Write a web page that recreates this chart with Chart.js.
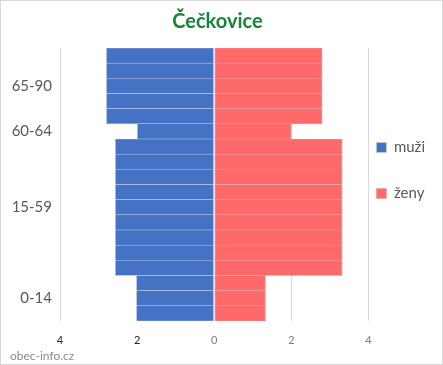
<!DOCTYPE html>
<html lang="cs">
<head>
    <meta charset="UTF-8">
    <title>Čečkovice</title>
    <script src="https://cdn.jsdelivr.net/npm/chart.js"></script>
    <style>
        body { margin: 0; background: #fff; }
    </style>
</head>
<body>
    <canvas id="pyramid" width="443" height="365"></canvas>
    <script>
        // age groups, top to bottom, and how many bar rows each one has
        const groupLabels = ['65-90', '60-64', '15-59', '0-14'];
        const groupRows = [5, 1, 9, 3];
        const muzi = [2.8, 2.0, 2.57, 2.02];
        const zeny = [2.8, 2.0, 3.32, 1.33];
        const xTicks = [-4, -2, 0, 2, 4];

        // expand groups into rows, label only the middle row
        const rowLabels = [];
        const rowMuzi = [];
        const rowZeny = [];
        groupLabels.forEach((g, i) => {
            for (let r = 0; r < groupRows[i]; r++) {
                rowLabels.push(r === Math.floor(groupRows[i] / 2) ? g : '');
                rowMuzi.push(-muzi[i]);
                rowZeny.push(zeny[i]);
            }
        });

        const frame = {
            id: 'frame',
            afterDraw(chart) {
                const ctx = chart.ctx;
                ctx.save();
                ctx.font = '12px Lato';
                ctx.fillStyle = '#8c8c8c';
                ctx.textBaseline = 'middle';
                ctx.fillText('obec-info.cz', 10, 356);
                ctx.strokeStyle = '#d9d9d9';
                ctx.lineWidth = 1;
                ctx.strokeRect(0.5, 0.5, chart.width - 1, chart.height - 1);
                ctx.restore();
            }
        };

        const ctx = document.getElementById('pyramid').getContext('2d');
        new Chart(ctx, {
            type: 'bar',
            data: {
                labels: rowLabels,
                datasets: [
                    {
                        label: 'muži',
                        data: rowMuzi,
                        backgroundColor: '#4472C4',
                        borderColor: '#BFCBE6',
                        borderWidth: { top: 0.6, bottom: 0.6, left: 1, right: 1 },
                        borderSkipped: false
                    },
                    {
                        label: 'ženy',
                        data: rowZeny,
                        backgroundColor: '#FF6969',
                        borderColor: '#E0A6A6',
                        borderWidth: { top: 0.6, bottom: 0.6, left: 1, right: 1 },
                        borderSkipped: false
                    }
                ]
            },
            options: {
                indexAxis: 'y',
                responsive: false,
                animation: false,
                devicePixelRatio: 1,
                layout: { padding: { top: 0, left: 0, right: 8, bottom: 0 } },
                datasets: { bar: { barPercentage: 1, categoryPercentage: 1 } },
                plugins: {
                    title: {
                        display: true,
                        text: 'Čečkovice',
                        color: '#17843C',
                        font: { family: 'Lato', size: 20, weight: 'bold' },
                        padding: { top: 10, bottom: 14 }
                    },
                    legend: {
                        position: 'right',
                        align: 'start',
                        // empty title just pushes the entries down
                        title: {
                            display: true,
                            text: '',
                            font: { size: 10 },
                            padding: { top: 120, bottom: 0 }
                        },
                        labels: {
                            boxWidth: 10,
                            boxHeight: 10,
                            padding: 8,
                            color: '#595959',
                            font: { family: 'Lato', size: 15 },
                            // blank spacer item between the two entries
                            generateLabels(chart) {
                                const items = Chart.defaults.plugins.legend.labels.generateLabels(chart);
                                items.splice(1, 0, {
                                    text: '',
                                    fillStyle: 'rgba(0,0,0,0)',
                                    strokeStyle: 'rgba(0,0,0,0)',
                                    lineWidth: 0,
                                    hidden: false,
                                    datasetIndex: -1
                                });
                                return items;
                            }
                        }
                    },
                    tooltip: { enabled: false }
                },
                scales: {
                    x: {
                        stacked: true,
                        min: -4,
                        max: 4,
                        z: 1,
                        afterBuildTicks: s => { s.ticks = xTicks.map(v => ({ value: v })); },
                        afterFit: s => { s.height = 44; },
                        border: { display: false },
                        grid: {
                            drawTicks: false,
                            color: c => (c.tick && (c.tick.value === -2 || c.tick.value === 0)) ? 'rgba(0,0,0,0)' : 'rgba(0,0,0,0.15)'
                        },
                        ticks: {
                            padding: 13,
                            font: { family: 'Lato', size: 11 },
                            color: c => (c.tick && c.tick.value < 0) ? '#222' : '#7f7f7f',
                            callback: v => Math.abs(v)
                        }
                    },
                    y: {
                        stacked: true,
                        afterFit: s => { s.width = 60; },
                        border: { display: false },
                        grid: { display: false, drawTicks: false },
                        ticks: {
                            autoSkip: false,
                            padding: 8,
                            color: '#595959',
                            font: { family: 'Lato', size: 15 }
                        }
                    }
                }
            },
            plugins: [frame]
        });
    </script>
</body>
</html>
